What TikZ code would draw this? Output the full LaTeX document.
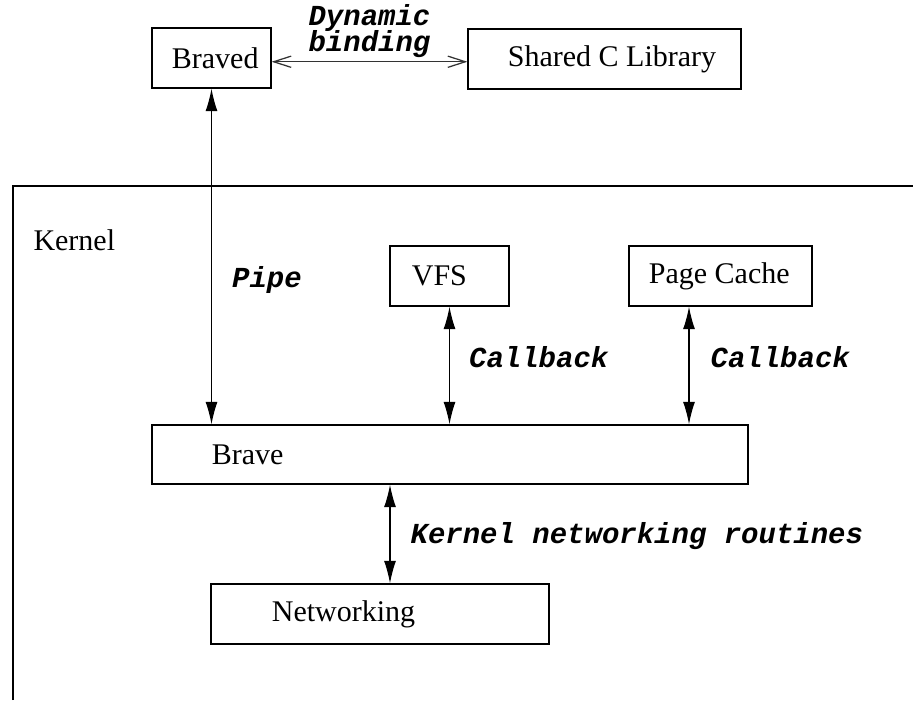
\documentclass[tikz,border=0pt]{standalone}
\usepackage{fontspec}
\setmainfont{Liberation Serif}
\setmonofont{Liberation Mono}
\usetikzlibrary{arrows.meta,fit}

\tikzset{
  every node/.style={font=\fontsize{12}{14}\selectfont},
  every label/.style={inner sep=0pt},
  box/.style={draw, line width=0.5pt, inner sep=0pt},
  call/.style={font=\fontsize{11.6}{10.4}\selectfont\ttfamily\bfseries\itshape, inner sep=0pt},
  link/.style={line width=0.5pt, {Latex[length=9pt,width=4.8pt]}-{Latex[length=9pt,width=4.8pt]}},
  bind/.style={line width=0.5pt, draw=black!80, {Straight Barb[length=7pt,width=4.5pt]}-{Straight Barb[length=7pt,width=4.5pt]}}
}

\begin{document}
\begin{tikzpicture}[x=0.4pt,y=-0.4pt]
\useasboundingbox (0,0) rectangle (913,700);

% user space
\node[box, fit={(152,28) (271,88)}, label={[anchor=west,xshift=8pt]west:Braved}] (braved) {};
\node[box, fit={(468,29) (741,89)}, label={[anchor=west,xshift=16pt]west:Shared C Library}] (libc) {};
\draw[bind] ([yshift=-1.5pt]braved.east) -- ([yshift=-1.5pt]braved.east -| libc.west)
  node[midway, above=1.5pt, call, align=center] (bindlbl) {Dynamic\\[-1.4pt]binding};

% kernel frame, runs off the page to the right and below
\draw[line width=0.5pt] (13,700) -- (13,186) -- (913,186);
\node[anchor=west, inner sep=0pt] (kernel) at (33,240) {Kernel};

\node[box, fit={(390,246) (509,306)}, label={[anchor=west,xshift=8.8pt]west:VFS}] (vfs) {};
\node[box, fit={(629,246) (812,306)}, label={[anchor=west,xshift=8pt]west:Page Cache}] (cache) {};
\node[box, fit={(152,425) (748,484)}, label={[anchor=west,xshift=24pt]west:Brave}] (brave) {};
\node[box, fit={(211,584) (549,644)}, label={[anchor=west,xshift=24.4pt]west:Networking}] (net) {};

% connectors
\draw[link] (braved.south) -- (braved.south |- brave.north)
  node[pos=0.57, right=8pt, call] (pipelbl) {Pipe};
\draw[link] (vfs.south) -- (vfs.south |- brave.north)
  node[pos=0.43, right=7.6pt, call] (cb1) {Callback};
\draw[link] ([xshift=-12.6pt]cache.south) -- ([xshift=-12.6pt]cache.south |- brave.north)
  node[pos=0.43, right=8.4pt, call] (cb2) {Callback};
\draw[link] ([xshift=4pt]net.north |- brave.south) -- ([xshift=4pt]net.north)
  node[pos=0.52, right=8pt, call] (netlbl) {Kernel networking routines};
\end{tikzpicture}
\end{document}
